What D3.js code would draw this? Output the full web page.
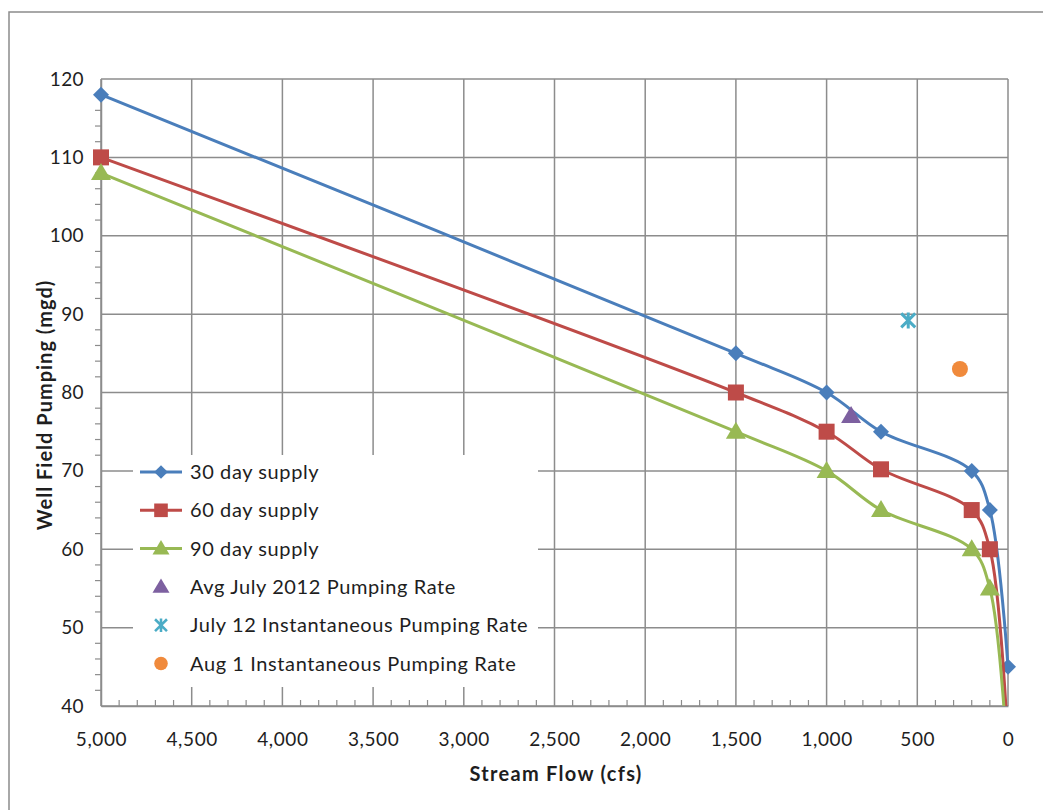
<!DOCTYPE html>
<html><head><meta charset="utf-8">
<script src="https://cdn.jsdelivr.net/npm/d3@7"></script>
<style>
body{margin:0;background:#fff;}
svg{display:block;font-family:Lato,"Open Sans",sans-serif;}
</style></head>
<body>
<svg id="chart" width="1043" height="810"></svg>
<script>
// ---- data ----
const flows30 = [5000, 1500, 1000, 700, 200, 100, 0];
const supply30 = [118, 85, 80, 75, 70, 65, 45];
const flows60 = [5000, 1500, 1000, 700, 200, 100, 0];
const supply60 = [110, 80, 75, 70.2, 65, 60, 35];
const flows90 = [5000, 1500, 1000, 700, 200, 100, 0];
const supply90 = [108, 75, 70, 65, 60, 55, 32];
const avgJulyFlow = [865], avgJulyRate = [77];
const july12Flow = [550], july12Rate = [89.2];
const aug1Flow = [265], aug1Rate = [83];
const xTicks = [5000, 4500, 4000, 3500, 3000, 2500, 2000, 1500, 1000, 500, 0];
const yTicks = [40, 50, 60, 70, 80, 90, 100, 110, 120];
const legendLabels = ["30 day supply", "60 day supply", "90 day supply",
  "Avg July 2012 Pumping Rate", "July 12 Instantaneous Pumping Rate", "Aug 1 Instantaneous Pumping Rate"];

const C = {blue:"#4a7ebb", red:"#be4b48", green:"#98b954", purple:"#7d60a0", teal:"#4bacc6", orange:"#f08a3c", grid:"#8c8c8c"};
const TXT = "#1e1e1e";

const svg = d3.select("#chart");
const L = 101, R = 1008, T = 79, B = 706;
const x = d3.scaleLinear().domain([5000, 0]).range([L, R]);
const y = d3.scaleLinear().domain([40, 120]).range([B, T]);

// outer frame
svg.append("rect").attr("x", 9).attr("y", 12).attr("width", 1100).attr("height", 900)
  .attr("fill", "#fff").attr("stroke", "#8c8c8c").attr("stroke-width", 1.5);

// gridlines
const g = svg.append("g");
g.selectAll(".vg").data(xTicks).join("line")
  .attr("x1", d => x(d)).attr("x2", d => x(d)).attr("y1", T).attr("y2", B)
  .attr("stroke", C.grid).attr("stroke-width", 1.5);
g.selectAll(".hg").data(yTicks).join("line")
  .attr("x1", L).attr("x2", R).attr("y1", d => y(d)).attr("y2", d => y(d))
  .attr("stroke", C.grid).attr("stroke-width", 1.5);

// minor ticks
const xMinor = d3.range(0, 5001, 100).filter(v => v % 500 !== 0);
g.selectAll(".xm").data(xMinor).join("line")
  .attr("x1", d => x(d)).attr("x2", d => x(d)).attr("y1", B).attr("y2", B - 6)
  .attr("stroke", C.grid).attr("stroke-width", 1.2);
const yMinor = d3.range(40, 121, 2).filter(v => v % 10 !== 0);
g.selectAll(".ym").data(yMinor).join("line")
  .attr("x1", L - 6).attr("x2", L).attr("y1", d => y(d)).attr("y2", d => y(d))
  .attr("stroke", C.grid).attr("stroke-width", 1.2);

// axes via d3 axis for labels
const xAxis = d3.axisBottom(x).tickValues(xTicks).tickSize(0).tickPadding(27)
  .tickFormat(d3.format(","));
const xa = svg.append("g").attr("transform", `translate(0,${B})`).call(xAxis);
xa.select(".domain").attr("stroke", C.grid).attr("stroke-width", 1.5);
xa.selectAll("text").attr("font-size", 19).attr("letter-spacing", 0.6).attr("fill", TXT).attr("font-family", "Lato");

const yAxis = d3.axisLeft(y).tickValues(yTicks).tickSize(0).tickPadding(17);
const ya = svg.append("g").attr("transform", `translate(${L},0)`).call(yAxis);
ya.select(".domain").attr("stroke", C.grid).attr("stroke-width", 1.5);
ya.selectAll("text").attr("font-size", 19).attr("letter-spacing", 0.4).attr("fill", TXT).attr("font-family", "Lato");

// axis titles
svg.append("text").attr("x", 556).attr("y", 781).attr("text-anchor", "middle")
  .attr("font-size", 20).attr("letter-spacing", 1.3).attr("font-weight", "bold").attr("fill", TXT).text("Stream Flow (cfs)");
svg.append("text").attr("transform", `translate(52,405) rotate(-90)`).attr("text-anchor", "middle")
  .attr("font-size", 20).attr("letter-spacing", 1.0).attr("font-weight", "bold").attr("fill", TXT).text("Well Field Pumping (mgd)");

// clip
svg.append("clipPath").attr("id", "clip").append("rect")
  .attr("x", L - 20).attr("y", T - 20).attr("width", R - L + 40).attr("height", B - T + 20);

const series = [
  {xs: flows30, ys: supply30, color: C.blue, shape: "diamond"},
  {xs: flows60, ys: supply60, color: C.red, shape: "square"},
  {xs: flows90, ys: supply90, color: C.green, shape: "triangle"}
];
const line = d3.line().x(d => x(d[0])).y(d => y(d[1])).curve(d3.curveCatmullRom.alpha(0.5));

function marker(sel, shape, color) {
  if (shape === "diamond") sel.append("path").attr("d", "M0,-8L8,0L0,8L-8,0Z").attr("fill", color);
  else if (shape === "square") sel.append("rect").attr("x", -8).attr("y", -8).attr("width", 16).attr("height", 16).attr("fill", color);
  else if (shape === "triangle") sel.append("path").attr("d", "M0,-10L10,7L-10,7Z").attr("fill", color);
  else if (shape === "star") {
    sel.append("path").attr("d", "M-7,-7L7,7M-7,7L7,-7M0,-8L0,8").attr("stroke", color).attr("stroke-width", 3).attr("fill", "none");
  } else if (shape === "circle") sel.append("circle").attr("r", 8).attr("fill", color);
}

const plot = svg.append("g");
series.forEach(s => {
  const pts = s.xs.map((v, i) => [v, s.ys[i]]);
  plot.append("path").datum(pts).attr("d", line).attr("fill", "none")
    .attr("stroke", s.color).attr("stroke-width", 3).attr("clip-path", "url(#clip)");
  pts.filter(p => p[1] >= 40).forEach(p => {
    const m = plot.append("g").attr("transform", `translate(${x(p[0])},${y(p[1])})`);
    marker(m, s.shape, s.color);
  });
});

const singles = [
  {xs: avgJulyFlow, ys: avgJulyRate, color: C.purple, shape: "triangle"},
  {xs: july12Flow, ys: july12Rate, color: C.teal, shape: "star"},
  {xs: aug1Flow, ys: aug1Rate, color: C.orange, shape: "circle"}
];
singles.forEach(s => {
  s.xs.forEach((v, i) => {
    const m = plot.append("g").attr("transform", `translate(${x(v)},${y(s.ys[i])})`);
    marker(m, s.shape, s.color);
  });
});

// legend
const lg = svg.append("g");
lg.append("rect").attr("x", 133).attr("y", 455).attr("width", 405).attr("height", 232).attr("fill", "#fff");
const allItems = series.concat(singles);
allItems.forEach((s, i) => {
  const cy = 472 + i * 38.3;
  const item = lg.append("g").attr("transform", `translate(0,${cy})`);
  if (i < 3) item.append("line").attr("x1", 140).attr("x2", 182).attr("y1", 0).attr("y2", 0)
    .attr("stroke", s.color).attr("stroke-width", 3);
  const m = item.append("g").attr("transform", `translate(161,0) scale(0.85)`);
  marker(m, s.shape, s.color);
  item.append("text").attr("x", 190).attr("y", 0).attr("dy", "0.35em").attr("font-size", 20)
    .attr("letter-spacing", 0.6).attr("fill", TXT).text(legendLabels[i]);
});
</script>
</body></html>
